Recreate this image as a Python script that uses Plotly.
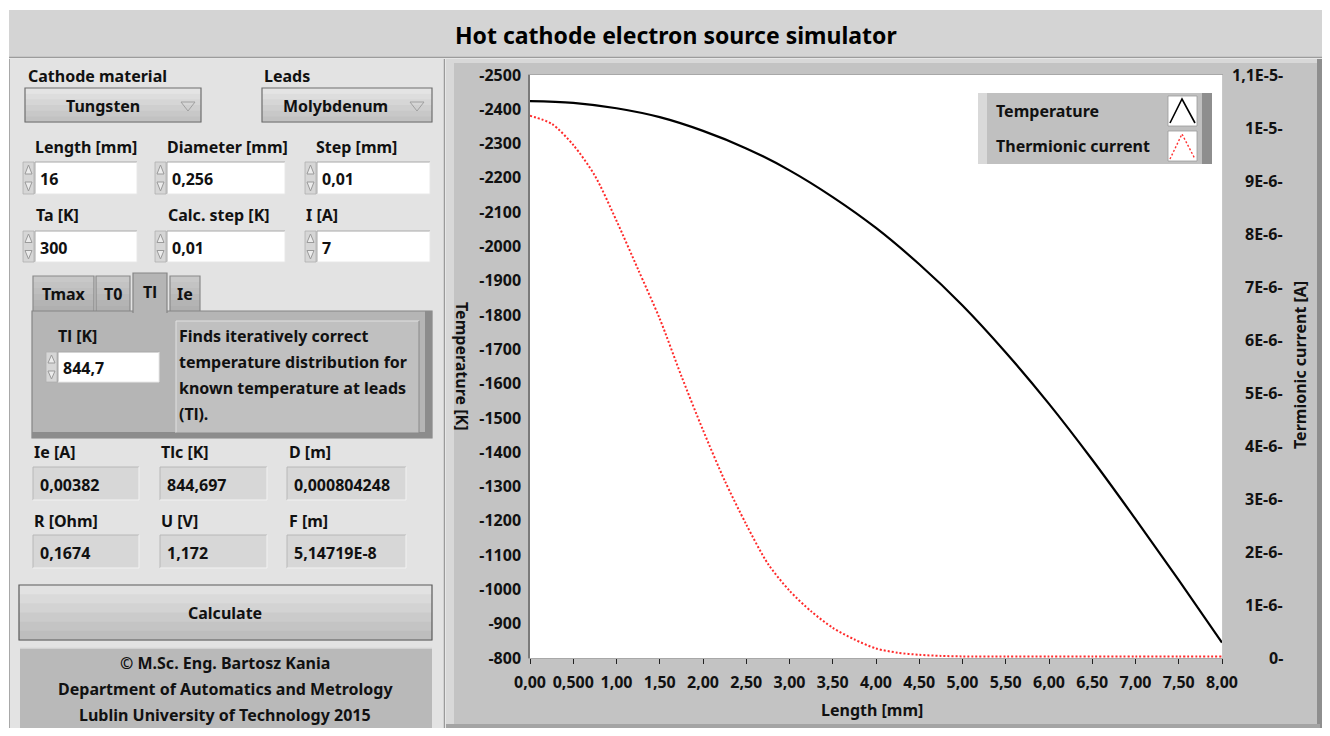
import plotly.graph_objects as go

# ---------------- data ----------------
temp_length_mm = [0.0, 0.5, 1.0, 1.5, 2.0, 2.5, 3.0, 3.5, 4.0, 4.5, 5.0, 5.5, 6.0, 6.5, 7.0, 7.5, 8.0]
temperature_K = [2424, 2419, 2403, 2377, 2337, 2286, 2222, 2144, 2054, 1948, 1828, 1691, 1541, 1378, 1205, 1027, 845]

curr_length_mm = [0.0, 0.25, 0.5, 0.75, 1.0, 1.25, 1.5, 1.75, 2.0, 2.25, 2.5, 2.75, 3.0, 3.25, 3.5, 3.75,
                  4.0, 4.25, 4.5, 4.75, 5.0, 5.5, 6.0, 6.5, 7.0, 7.5, 8.0]
current_uA = [10.23, 10.08, 9.68, 9.10, 8.25, 7.33, 6.40, 5.32, 4.30, 3.35, 2.52, 1.78, 1.27, 0.88, 0.57, 0.35,
              0.18, 0.10, 0.06, 0.04, 0.03, 0.03, 0.03, 0.03, 0.03, 0.03, 0.03]
current_A = [v * 1e-6 for v in current_uA]

x_ticks = [0.0, 0.5, 1.0, 1.5, 2.0, 2.5, 3.0, 3.5, 4.0, 4.5, 5.0, 5.5, 6.0, 6.5, 7.0, 7.5, 8.0]
x_tick_text = ["0,00", "0,500", "1,00", "1,50", "2,00", "2,50", "3,00", "3,50", "4,00", "4,50",
               "5,00", "5,50", "6,00", "6,50", "7,00", "7,50", "8,00"]
t_ticks = list(range(800, 2501, 100))
t_tick_text = ["-" + str(v) for v in t_ticks]
i_ticks = [0, 1e-6, 2e-6, 3e-6, 4e-6, 5e-6, 6e-6, 7e-6, 8e-6, 9e-6, 1e-5, 1.1e-5]
i_tick_text = ["0-", "1E-6-", "2E-6-", "3E-6-", "4E-6-", "5E-6-", "6E-6-", "7E-6-", "8E-6-", "9E-6-",
               "1E-5-", "1,1E-5-"]

# ---------------- helpers ----------------
# The page body keeps its default 8px margin on every side, so the figure is
# 1314x720 (page exactly 1330x736) and window pixel (px, py) -> figure (px-8, py-8).
OFF = 8
W, H = 1330 - 2 * OFF, 736 - 2 * OFF
FONT = "Noto Sans"


def X(px):
    return min(max((px - OFF) / W, 0.0), 1.0)


def Y(py):
    return min(max(1 - (py - OFF) / H, 0.0), 1.0)


shapes = []
annotations = []


def rect(x0, y0, x1, y1, fill, line=None, lw=1, layer="below"):
    shapes.append(dict(type="rect", xref="paper", yref="paper",
                       x0=X(x0), x1=X(x1), y0=Y(y1), y1=Y(y0),
                       fillcolor=fill,
                       line=dict(color=line if line else fill, width=lw if line else 0),
                       layer=layer))


def hline(x0, x1, y, color, lw=1):
    shapes.append(dict(type="line", xref="paper", yref="paper", x0=X(x0), x1=X(x1), y0=Y(y), y1=Y(y),
                       line=dict(color=color, width=lw), layer="below"))


def vline(x, y0, y1, color, lw=1):
    shapes.append(dict(type="line", xref="paper", yref="paper", x0=X(x), x1=X(x), y0=Y(y0), y1=Y(y1),
                       line=dict(color=color, width=lw), layer="below"))


def path(pts, color, lw=1, fill=None, dash="solid", layer="below", closed=False):
    d = "M " + " L ".join(f"{X(a):.6f},{Y(b):.6f}" for a, b in pts)
    if closed:
        d += " Z"
    shapes.append(dict(type="path", xref="paper", yref="paper", path=d,
                       line=dict(color=color, width=lw, dash=dash),
                       fillcolor=fill if fill else "rgba(0,0,0,0)", layer=layer))


def text(x, y, s, size=16, anchor="left", color="#111111", bold=True, angle=0, yref="paper"):
    annotations.append(dict(xref="paper", yref=yref, x=X(x), y=(Y(y) if yref == "paper" else y),
                            text=s, showarrow=False, xanchor=anchor, yanchor="middle",
                            textangle=angle, borderpad=0,
                            font=dict(family=FONT, size=size, color=color,
                                      weight="bold" if bold else "normal")))


def bevel_box(x0, y0, x1, y1, fill, light="#f4f4f4", dark="#8a8a8a"):
    rect(x0, y0, x1, y1, fill)
    hline(x0, x1, y0, dark)
    vline(x0, y0, y1, dark)
    hline(x0, x1, y1, light)
    vline(x1, y0, y1, light)


def raised(x0, y0, x1, y1, top="#e4e4e4", bottom="#c2c2c2", border="#6e6e6e"):
    n = 6
    h = (y1 - y0) / n
    for i in range(n):
        t = i / (n - 1)
        c = [int(int(top[k:k + 2], 16) * (1 - t) + int(bottom[k:k + 2], 16) * t) for k in (1, 3, 5)]
        rect(x0, y0 + i * h, x1, y0 + (i + 1) * h + 0.5, "#%02x%02x%02x" % tuple(c))
    shapes.append(dict(type="rect", xref="paper", yref="paper", x0=X(x0), x1=X(x1), y0=Y(y1), y1=Y(y0),
                       fillcolor="rgba(0,0,0,0)", line=dict(color=border, width=1.2), layer="below"))


def spinner(x, y0, y1):
    rect(x, y0, x + 11, y1, "#d6d6d6", "#b0b0b0", 0.8)
    m = (y0 + y1) / 2
    path([(x + 2, m - 4), (x + 5.5, y0 + 3), (x + 9, m - 4)], "#9a9a9a", 1, fill="#ececec", closed=True)
    path([(x + 2, m + 4), (x + 5.5, y1 - 3), (x + 9, m + 4)], "#9a9a9a", 1, fill="#ececec", closed=True)


def numeric(x0, y0, x1, y1, s):
    spinner(x0 - 12, y0, y1)
    bevel_box(x0, y0, x1, y1, "#ffffff", light="#e8e8e8", dark="#a8a8a8")
    text(x0 + 4, (y0 + y1) / 2 + 1, s, 16)


def indicator(x0, y0, x1, y1, s):
    bevel_box(x0, y0, x1, y1, "#d7d7d7", light="#f2f2f2", dark="#b8b8b8")
    text(x0 + 6, (y0 + y1) / 2 + 1, s, 16)


# ---------------- window chrome ----------------
rect(9, 10, 1330, 57, "#d4d4d4")
hline(9, 1330, 57.5, "#9c9c9c", 1.5)
text(676, 35, "Hot cathode electron source simulator", 23, anchor="center", color="#000000")

# left panel
rect(9, 59, 445, 736, "#e3e3e3")
vline(9.5, 59, 736, "#a8a8a8", 1)
vline(444.5, 59, 736, "#9a9a9a", 1.5)

# graph panel
rect(446, 59, 1330, 736, "#d8d8d8")
rect(454, 63, 1320, 728, "#c3c3c3")
rect(1317, 59, 1330, 736, "#8e8e8e")
rect(446, 724, 1320, 736, "#a4a4a4")
# white plot area drawn in the library's axis domain
shapes.append(dict(type="rect", xref="x domain", yref="y domain", x0=0, x1=1, y0=0, y1=1,
                   fillcolor="#ffffff", line=dict(width=0), layer="below"))

# ---------------- left panel controls ----------------
text(27, 76, "Cathode material", 16)
text(263, 76, "Leads", 16)
raised(25, 88, 201, 122)
text(103, 106, "Tungsten", 16, anchor="center")
path([(181, 102), (195, 102), (188, 111)], "#a0a0a0", 1, closed=True)
raised(262, 88, 432, 122)
text(335, 106, "Molybdenum", 16, anchor="center")
path([(410, 102), (424, 102), (417, 111)], "#a0a0a0", 1, closed=True)

text(34, 147, "Length [mm]", 16)
text(166, 147, "Diameter [mm]", 16)
text(315, 147, "Step [mm]", 16)
numeric(35, 162, 137, 194, "16")
numeric(167, 162, 285, 194, "0,256")
numeric(317, 162, 430, 194, "0,01")

text(35, 215, "Ta [K]", 16)
text(167, 215, "Calc. step [K]", 16)
text(305, 215, "I [A]", 16)
numeric(35, 231, 137, 262, "300")
numeric(167, 231, 285, 262, "0,01")
numeric(317, 231, 430, 262, "7")

# tabs
for (x0, x1, lab) in [(33, 94, "Tmax"), (96, 130, "T0"), (170, 200, "Ie")]:
    raised(x0, 276, x1, 312, top="#c8c8c8", bottom="#b0b0b0", border="#8a8a8a")
    text((x0 + x1) / 2, 294, lab, 16, anchor="center")
rect(32, 311, 432, 438, "#b5b5b5", "#858585", 1.2)
rect(133, 273, 167, 313, "#b5b5b5")
path([(133, 313), (133, 273), (167, 273), (167, 313)], "#858585", 1.2)
text(150, 292, "Tl", 16, anchor="center")
rect(425, 311, 432, 438, "#8c8c8c")
rect(32, 432, 432, 438, "#8c8c8c")

text(57, 336, "Tl [K]", 16)
numeric(58, 352, 159, 382, "844,7")
bevel_box(176, 321, 419, 433, "#c0c0c0", light="#8a8a8a", dark="#e0e0e0")
for i, line in enumerate(["Finds iteratively correct", "temperature distribution for",
                          "known temperature at leads", "(Tl)."]):
    text(178, 336 + i * 26, line, 16)

text(33, 452, "Ie [A]", 16)
text(160, 452, "Tlc [K]", 16)
text(288, 452, "D [m]", 16)
indicator(33, 467, 139, 500, "0,00382")
indicator(160, 467, 267, 500, "844,697")
indicator(287, 467, 406, 500, "0,000804248")

text(33, 521, "R [Ohm]", 16)
text(160, 521, "U [V]", 16)
text(288, 521, "F [m]", 16)
indicator(33, 535, 139, 568, "0,1674")
indicator(160, 535, 267, 568, "1,172")
indicator(287, 535, 406, 568, "5,14719E-8")

raised(19, 585, 432, 640, top="#e2e2e2", bottom="#bdbdbd", border="#5a5a5a")
text(225, 613, "Calculate", 16, anchor="center")

rect(20, 648, 432, 736, "#b9b9b9")
hline(20, 432, 648, "#dcdcdc", 1.5)
text(225, 663, "© M.Sc. Eng. Bartosz Kania", 16, anchor="center")
text(225, 689, "Department of Automatics and Metrology", 16, anchor="center")
text(225, 715, "Lublin University of Technology 2015", 16, anchor="center")

# ---------------- graph labels ----------------
text(462, 366, "Temperature [K]", 16, anchor="center", angle=90)
text(1300, 365, "Termionic current [A]", 16, anchor="center", angle=-90)
text(872, 710, "Length [mm]", 16, anchor="center")
for v, s in zip(i_ticks, i_tick_text):
    text(1284, v, s, 16, anchor="right", yref="y2")

# legend box (drawn over the plot)
rect(978, 93, 1212, 164, "#c0c0c0", layer="above")
rect(978, 93, 987, 164, "#d9d9d9", layer="above")
rect(1202, 93, 1212, 164, "#8e8e8e", layer="above")
rect(1168, 96, 1197, 126, "#ffffff", "#9a9a9a", 0.8, layer="above")
rect(1168, 131, 1197, 161, "#ffffff", "#9a9a9a", 0.8, layer="above")
path([(1170, 123), (1182, 99), (1195, 123)], "#000000", 1.6, layer="above")
path([(1170, 159), (1182, 134), (1195, 159)], "#ff3030", 1.4, dash="2px,2px", layer="above")
text(995, 111, "Temperature", 16)
text(995, 146, "Thermionic current", 16)

# ---------------- traces ----------------
fig = go.Figure()
fig.add_trace(go.Scatter(x=temp_length_mm, y=temperature_K, name="Temperature", mode="lines",
                         line=dict(color="#000000", width=2.2, shape="spline", smoothing=1.0),
                         yaxis="y"))
fig.add_trace(go.Scatter(x=curr_length_mm, y=current_A, name="Thermionic current", mode="lines",
                         line=dict(color="#ff2a2a", width=2, dash="2px,2px", shape="spline", smoothing=0.8),
                         yaxis="y2"))

x0p, x1p = X(530), X(1222)
y0p, y1p = Y(658), Y(75)

fig.update_layout(
    width=W, height=H, autosize=False,
    margin=dict(l=0, r=0, t=0, b=0, pad=0, autoexpand=False),
    paper_bgcolor="#ffffff",
    plot_bgcolor="rgba(0,0,0,0)",
    showlegend=False,
    shapes=shapes,
    annotations=annotations,
    font=dict(family=FONT, color="#111111"),
    xaxis=dict(domain=[x0p, x1p], range=[0, 8], tickvals=x_ticks, ticktext=x_tick_text,
               tickangle=0, ticks="outside", ticklen=5, tickcolor="#222222", tickwidth=1,
               ticklabelstandoff=5, automargin=False,
               tickfont=dict(family=FONT, size=16, color="#111111", weight="bold"),
               showgrid=False, zeroline=False, showline=True, linecolor="#a8a8a8", linewidth=1,
               mirror=True, fixedrange=True),
    yaxis=dict(domain=[y0p, y1p], range=[800, 2500], tickvals=t_ticks, ticktext=t_tick_text,
               ticks="", ticklen=0, ticklabelstandoff=4, automargin=False,
               tickfont=dict(family=FONT, size=16, color="#111111", weight="bold"),
               showgrid=False, zeroline=False, showline=True, linecolor="#7a7a7a", linewidth=1.5,
               mirror=False, fixedrange=True),
    yaxis2=dict(domain=[y0p, y1p], range=[0, 1.1e-5], overlaying="y", side="right", anchor="x",
                showticklabels=False, ticks="", showgrid=False, zeroline=False, automargin=False,
                showline=True, linecolor="#c8c8c8", linewidth=1, fixedrange=True),
)

fig.write_html("out.html", config={"displayModeBar": False})
